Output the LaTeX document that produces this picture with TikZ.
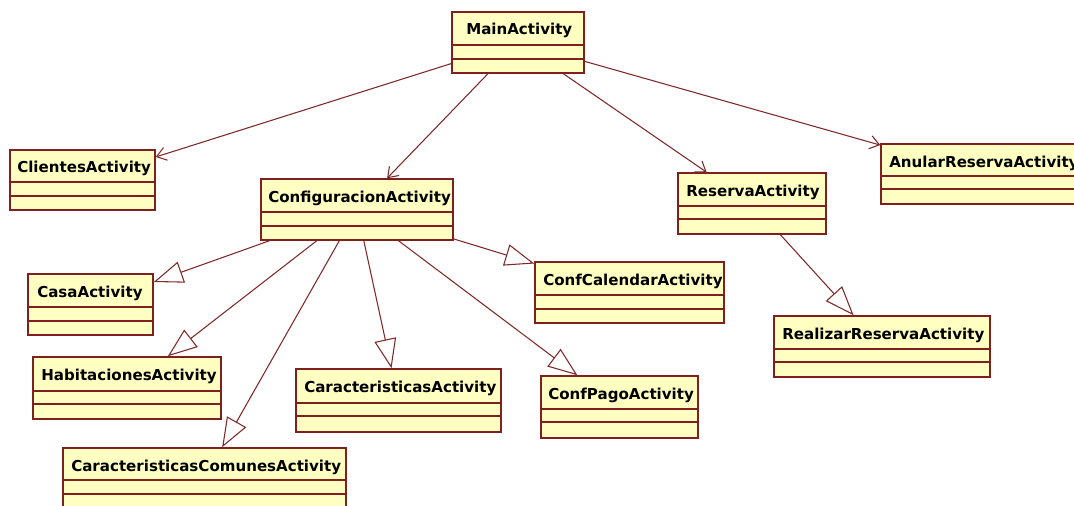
\documentclass[tikz,border=0pt]{standalone}
\usepackage{fontspec}
\setmainfont{DejaVu Sans}
\usetikzlibrary{arrows.meta,fit}
\definecolor{clsfill}{HTML}{FFFFC2}
\definecolor{clsborder}{HTML}{7F2020}
\definecolor{edgecol}{HTML}{7F2A2A}
\tikzset{
  clsbox/.style={draw=clsborder, fill=clsfill, line width=1.1pt, inner sep=0pt},
  clsline/.style={draw=clsborder, line width=1.1pt},
  clstext/.style={anchor=base west, inner sep=0pt, font=\bfseries\fontsize{11.3}{13}\selectfont, text=black},
  assoc/.style={draw=edgecol, line width=0.8pt, -{Straight Barb[length=7pt,width=10pt]}},
  gen/.style={draw=edgecol, line width=0.8pt, -{Triangle[open,length=22pt,width=16.5pt]}}
}
% #1 name, #2 x1, #3 y1, #4 x2, #5 y2, #6 line1, #7 line2, #8 text x offset, #9 text
\newcommand\umlcls[9]{%
  \node[clsbox, fit={(#2,#3) (#4,#5)}] (#1) {};
  \draw[clsline] (#2,#6) -- (#4,#6);
  \draw[clsline] (#2,#7) -- (#4,#7);
  \node[clstext] (#1-t) at (#2+#8,#3+23) {#9};
}
\begin{document}
\begin{tikzpicture}[x=0.75pt,y=-0.75pt]
\useasboundingbox (0,0) rectangle (1074,506);
\fill[white] (0,0) rectangle (1074,506);
\clip (0,0) rectangle (1074,506);
\umlcls{main}{452}{12}{584}{73}{45}{59}{14}{MainActivity}
\umlcls{cli}{10}{150}{155}{210}{182}{196}{7}{ClientesActivity}
\umlcls{conf}{261}{179}{453}{240}{212}{226}{7}{ConfiguracionActivity}
\umlcls{res}{678}{173}{826}{234}{206}{219}{8}{ReservaActivity}
\umlcls{anu}{881}{144}{1085}{204}{176}{189}{8}{AnularReservaActivity}
\umlcls{casa}{28}{274}{153}{335}{307}{321}{9}{CasaActivity}
\umlcls{hab}{33}{357}{221}{419}{391}{404}{8}{HabitacionesActivity}
\umlcls{cc}{63}{448}{346}{509}{480}{494}{8}{CaracteristicasComunesActivity}
\umlcls{cal}{535}{262}{724}{323}{295}{309}{8}{ConfCalendarActivity}
\umlcls{car}{296}{369}{501}{432}{403}{416}{8}{CaracteristicasActivity}
\umlcls{pago}{541}{376}{698}{438}{409}{422}{7}{ConfPagoActivity}
\umlcls{real}{774}{316}{990}{377}{349}{362}{8}{RealizarReservaActivity}
% associations
\draw[assoc] (main) -- (cli);
\draw[assoc] (main) -- (conf);
\draw[assoc] (main) -- (res);
\draw[assoc] (main) -- (anu);
% generalizations
\draw[gen] (conf) -- (casa);
\draw[gen] (conf) -- (hab);
\draw[gen] (conf) -- (cc);
\draw[gen] (conf) -- (car);
\draw[gen] (conf) -- (pago);
\draw[gen] (conf) -- (cal);
\draw[gen] (res) -- (real);
\end{tikzpicture}
\end{document}
